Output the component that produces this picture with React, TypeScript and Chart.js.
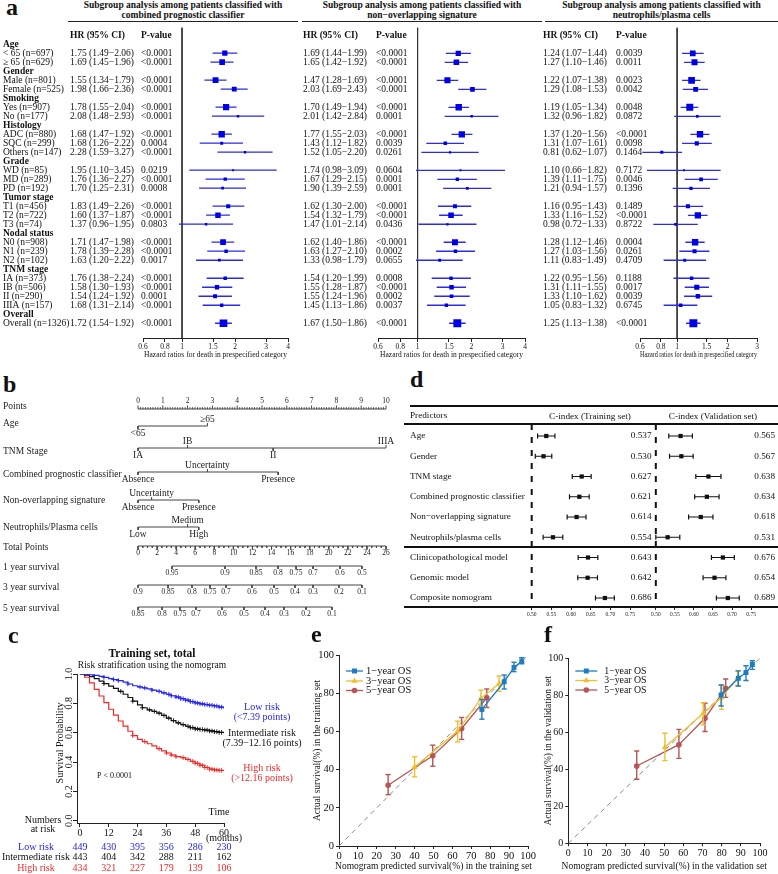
import React, { useEffect, useRef } from 'react';
import { Chart, registerables } from 'chart.js';

Chart.register(...registerables);

const SERIF = '"Liberation Serif", "Times New Roman", Times, serif';
Chart.defaults.font.family = SERIF;
Chart.defaults.color = '#111';

// ===================== a: subgroup analyses =====================
const subgroupLabels = [
  'Age', '< 65 (n=697)', '≥ 65 (n=629)',
  'Gender', 'Male (n=801)', 'Female (n=525)',
  'Smoking', 'Yes (n=907)', 'No (n=177)',
  'Histology', 'ADC (n=880)', 'SQC (n=299)', 'Others (n=147)',
  'Grade', 'WD (n=85)', 'MD (n=289)', 'PD (n=192)',
  'Tumor stage', 'T1 (n=456)', 'T2 (n=722)', 'T3 (n=74)',
  'Nodal status', 'N0 (n=908)', 'N1 (n=239)', 'N2 (n=102)',
  'TNM stage', 'IA (n=373)', 'IB (n=506)', 'II (n=290)', 'IIIA (n=157)',
  'Overall', 'Overall (n=1326)',
];

const cpcHR = [null, 1.75, 1.69, null, 1.55, 1.98, null, 1.78, 2.08, null, 1.68, 1.68, 2.28, null, 1.95, 1.76, 1.70, null, 1.83, 1.60, 1.37, null, 1.71, 1.78, 1.63, null, 1.76, 1.58, 1.54, 1.68, null, 1.72];
const cpcLo = [null, 1.49, 1.45, null, 1.34, 1.66, null, 1.55, 1.48, null, 1.47, 1.26, 1.59, null, 1.10, 1.36, 1.25, null, 1.49, 1.37, 0.96, null, 1.47, 1.39, 1.20, null, 1.38, 1.30, 1.24, 1.31, null, 1.54];
const cpcHi = [null, 2.06, 1.96, null, 1.79, 2.36, null, 2.04, 2.93, null, 1.92, 2.22, 3.27, null, 3.45, 2.27, 2.31, null, 2.26, 1.87, 1.95, null, 1.98, 2.28, 2.22, null, 2.24, 1.93, 1.92, 2.14, null, 1.92];
const cpcP = ['', '<0.0001', '<0.0001', '', '<0.0001', '<0.0001', '', '<0.0001', '<0.0001', '', '<0.0001', '0.0004', '<0.0001', '', '0.0219', '<0.0001', '0.0008', '', '<0.0001', '<0.0001', '0.0803', '', '<0.0001', '<0.0001', '0.0017', '', '<0.0001', '<0.0001', '0.0001', '<0.0001', '', '<0.0001'];

const nosHR = [null, 1.69, 1.65, null, 1.47, 2.03, null, 1.70, 2.01, null, 1.77, 1.43, 1.52, null, 1.74, 1.67, 1.90, null, 1.62, 1.54, 1.47, null, 1.62, 1.63, 1.33, null, 1.54, 1.55, 1.55, 1.45, null, 1.67];
const nosLo = [null, 1.44, 1.42, null, 1.28, 1.69, null, 1.49, 1.42, null, 1.55, 1.12, 1.05, null, 0.98, 1.29, 1.39, null, 1.30, 1.32, 1.01, null, 1.40, 1.27, 0.98, null, 1.20, 1.28, 1.24, 1.13, null, 1.50];
const nosHi = [null, 1.99, 1.92, null, 1.69, 2.43, null, 1.94, 2.84, null, 2.03, 1.82, 2.20, null, 3.09, 2.15, 2.59, null, 2.00, 1.79, 2.14, null, 1.86, 2.10, 1.79, null, 1.99, 1.87, 1.96, 1.86, null, 1.86];
const nosP = ['', '<0.0001', '<0.0001', '', '<0.0001', '<0.0001', '', '<0.0001', '0.0001', '', '<0.0001', '0.0039', '0.0261', '', '0.0604', '0.0001', '0.0001', '', '<0.0001', '<0.0001', '0.0436', '', '<0.0001', '0.0002', '0.0655', '', '0.0008', '<0.0001', '0.0002', '0.0037', '', '<0.0001'];

const npcHR = [null, 1.24, 1.27, null, 1.22, 1.29, null, 1.19, 1.32, null, 1.37, 1.31, 0.81, null, 1.10, 1.39, 1.21, null, 1.16, 1.33, 0.98, null, 1.28, 1.27, 1.11, null, 1.22, 1.31, 1.33, 1.05, null, 1.25];
const npcLo = [null, 1.07, 1.10, null, 1.07, 1.08, null, 1.05, 0.96, null, 1.20, 1.07, 0.62, null, 0.66, 1.11, 0.94, null, 0.95, 1.16, 0.72, null, 1.12, 1.03, 0.83, null, 0.95, 1.11, 1.10, 0.83, null, 1.13];
const npcHi = [null, 1.44, 1.46, null, 1.38, 1.53, null, 1.34, 1.82, null, 1.56, 1.61, 1.07, null, 1.82, 1.75, 1.57, null, 1.43, 1.52, 1.33, null, 1.46, 1.56, 1.49, null, 1.56, 1.55, 1.62, 1.32, null, 1.38];
const npcP = ['', '0.0039', '0.0011', '', '0.0023', '0.0042', '', '0.0048', '0.0872', '', '<0.0001', '0.0098', '0.1464', '', '0.7172', '0.0046', '0.1396', '', '0.1489', '<0.0001', '0.8722', '', '0.0004', '0.0261', '0.4709', '', '0.1188', '0.0017', '0.0039', '0.6745', '', '<0.0001'];

const hrTicksWide = [0.6, 0.8, 1, 1.5, 2, 3, 4];
const hrTicksNarrow = [0.6, 0.8, 1, 1.5, 2, 3];

// ===================== b: nomogram =====================
const nomoRowNames = ['Points', 'Age', 'TNM Stage', 'Combined prognostic classifier', 'Non-overlapping signature', 'Neutrophils/Plasma cells', 'Total Points', '1 year survival', '3 year survival', '5 year survival'];
const pointsTicks = [0, 1, 2, 3, 4, 5, 6, 7, 8, 9, 10];
const ageLevels = ['<65', '≥65'];
const agePoints = [0, 2.8];
const tnmLevels = ['IA', 'IB', 'II', 'IIIA'];
const tnmPoints = [0, 2.0, 5.45, 10];
const cpcLevels = ['Absence', 'Uncertainty', 'Presence'];
const cpcPoints = [0, 2.8, 5.65];
const nosLevels = ['Absence', 'Uncertainty', 'Presence'];
const nosPoints = [0, 0.55, 2.45];
const npcLevels = ['Low', 'Medium', 'High'];
const npcPoints = [0, 2.0, 2.45];
const totalPointsTicks = [0, 2, 4, 6, 8, 10, 12, 14, 16, 18, 20, 22, 24, 26];
const surv1Probs = [0.95, 0.9, 0.85, 0.8, 0.75, 0.7, 0.6, 0.5];
const surv1Total = [3.56, 9.12, 12.37, 14.68, 16.57, 18.35, 21.18, 23.48];
const surv3Probs = [0.9, 0.85, 0.8, 0.75, 0.7, 0.6, 0.5, 0.4, 0.3, 0.2, 0.1];
const surv3Total = [0, 3.15, 5.66, 7.55, 9.23, 11.95, 14.26, 16.46, 18.35, 21.07, 23.48];
const surv5Probs = [0.85, 0.8, 0.75, 0.7, 0.6, 0.5, 0.4, 0.3, 0.2, 0.1];
const surv5Total = [0, 2.52, 4.40, 6.08, 8.81, 11.11, 13.32, 15.31, 17.61, 20.34];

// ===================== c: Kaplan-Meier =====================
const kmTimes = [0, 2, 4, 6, 8, 10, 12, 14, 16, 18, 20, 22, 24, 26, 28, 30, 32, 34, 36, 38, 40, 42, 44, 46, 48, 50, 52, 54, 56, 58, 60];
const kmLow = [1.000, 0.998, 0.995, 0.990, 0.984, 0.977, 0.968, 0.962, 0.955, 0.945, 0.932, 0.920, 0.912, 0.905, 0.898, 0.890, 0.882, 0.872, 0.862, 0.852, 0.843, 0.832, 0.822, 0.812, 0.803, 0.797, 0.792, 0.787, 0.782, 0.775, 0.763];
const kmMid = [1.000, 0.993, 0.982, 0.968, 0.952, 0.935, 0.918, 0.902, 0.882, 0.862, 0.840, 0.815, 0.790, 0.770, 0.756, 0.745, 0.733, 0.718, 0.700, 0.683, 0.667, 0.655, 0.644, 0.635, 0.626, 0.622, 0.618, 0.612, 0.607, 0.602, 0.596];
const kmHigh = [1.000, 0.978, 0.940, 0.895, 0.850, 0.805, 0.760, 0.720, 0.680, 0.645, 0.610, 0.580, 0.555, 0.540, 0.525, 0.510, 0.492, 0.477, 0.462, 0.448, 0.437, 0.430, 0.418, 0.405, 0.392, 0.378, 0.363, 0.352, 0.346, 0.343, 0.340];
const censorLow = [6, 10, 14, 16, 20, 25, 27, 30, 33, 35, 37, 38, 40, 41, 42, 43, 44, 45, 46, 47, 48, 49, 50, 51, 52, 53, 54, 55, 56, 57, 58, 59];
const censorMid = [10, 17, 22, 26, 29, 31, 33, 35, 37, 39, 41, 43, 45, 46, 47, 48, 49, 50, 51, 52, 53, 54, 55, 56, 57, 58, 59];
const censorHigh = [22, 27, 33, 36, 38, 40, 43, 45, 47, 48, 49, 50, 51, 52, 53, 54, 55, 56, 57, 58, 59];
const riskTimes = [0, 12, 24, 36, 48, 60];
const riskLow = [449, 430, 395, 356, 286, 230];
const riskMid = [443, 404, 342, 288, 211, 162];
const riskHigh = [434, 321, 227, 179, 139, 106];
const kmYTicks = [0, 0.2, 0.4, 0.6, 0.8, 1.0];

// ===================== d: C-index =====================
const cindexLabels = ['Age', 'Gender', 'TNM stage', 'Combined prognostic classifier', 'Non−overlapping signature', 'Neutrophils/plasma cells', 'Clinicopathological model', 'Genomic model', 'Composite nomogram'];
const trainC = [0.537, 0.530, 0.627, 0.621, 0.614, 0.554, 0.643, 0.642, 0.686];
const trainLo = [0.515, 0.509, 0.603, 0.596, 0.590, 0.529, 0.618, 0.617, 0.662];
const trainHi = [0.559, 0.551, 0.651, 0.646, 0.638, 0.579, 0.668, 0.667, 0.710];
const validC = [0.565, 0.567, 0.638, 0.634, 0.618, 0.531, 0.676, 0.654, 0.689];
const validLo = [0.534, 0.536, 0.605, 0.602, 0.586, 0.500, 0.646, 0.624, 0.659];
const validHi = [0.596, 0.598, 0.671, 0.666, 0.650, 0.563, 0.706, 0.684, 0.719];
const cTicks = [0.5, 0.55, 0.6, 0.65, 0.7, 0.75];

// ===================== e/f: calibration =====================
const calNames = ['1−year OS', '3−year OS', '5−year OS'];
const e1x = [75.6, 87.4, 92.6, 96.7];
const e1y = [71.5, 86.0, 93.5, 96.8];
const e1lo = [66.4, 82.2, 91.3, 95.4];
const e1hi = [76.7, 89.5, 96.2, 98.6];
const e3x = [40.0, 62.8, 75.1, 84.7];
const e3y = [41.4, 60.2, 77.3, 85.1];
const e3lo = [36.2, 54.5, 71.8, 81.0];
const e3hi = [46.7, 65.4, 81.6, 89.0];
const e5x = [26.0, 49.6, 64.9, 78.2];
const e5y = [31.8, 47.2, 61.5, 77.6];
const e5lo = [26.9, 41.8, 55.8, 72.5];
const e5hi = [37.4, 52.8, 67.3, 82.2];
const f1x = [79.7, 88.7, 92.7, 96.0];
const f1y = [80.2, 89.2, 92.3, 96.6];
const f1lo = [74.2, 85.0, 88.0, 94.0];
const f1hi = [85.6, 93.2, 96.0, 98.7];
const f3x = [50.4, 70.4, 80.0, 88.3];
const f3y = [51.9, 70.3, 78.9, 89.2];
const f3lo = [44.7, 64.0, 72.4, 85.0];
const f3hi = [59.5, 76.0, 85.6, 93.2];
const f5x = [35.7, 57.7, 71.3, 82.1];
const f5y = [41.8, 53.3, 67.6, 83.8];
const f5lo = [34.6, 45.9, 60.4, 78.9];
const f5hi = [49.9, 61.6, 75.7, 88.8];

// ===================== helpers =====================
const BLUE_SQ = '#0000e6';
const BLUE_CI = '#2b2be8';
const KM_BLUE = '#2424ee';
const KM_RED = '#f02828';
const CAL_BLUE = '#1f7cc0';
const CAL_YELLOW = '#efbf2c';
const CAL_RED = '#b65556';

function drawText(ctx: CanvasRenderingContext2D, s: string, x: number, y: number, o: any = {}) {
  ctx.save();
  ctx.font = `${o.weight || 'normal'} ${o.size || 9.5}px ${SERIF}`;
  ctx.fillStyle = o.color || '#111';
  ctx.textAlign = o.align || 'left';
  ctx.textBaseline = 'middle';
  if (o.rotate) {
    ctx.translate(x, y);
    ctx.rotate(o.rotate);
    ctx.fillText(s, 0, 0);
  } else {
    ctx.fillText(s, x, y);
  }
  ctx.restore();
}

function baseOptions(padding: any, scales: any) {
  return {
    responsive: false,
    animation: false,
    devicePixelRatio: 1,
    events: [],
    layout: { padding },
    plugins: { legend: { display: false }, tooltip: { enabled: false }, title: { display: false } },
    scales,
  };
}

function ChartBox(props: { left: number; top: number; width: number; height: number; make: () => any }) {
  const ref = useRef<HTMLCanvasElement | null>(null);
  useEffect(() => {
    if (!ref.current) return;
    const chart = new Chart(ref.current, props.make());
    return () => chart.destroy();
  }, []);
  return (
    <canvas
      ref={ref}
      width={props.width}
      height={props.height}
      style={{ position: 'absolute', left: props.left, top: props.top, width: props.width, height: props.height }}
    />
  );
}

const fmt2 = (v: any) => Number(v).toFixed(2);

// ---------- forest (panel a) ----------
const F_TOP = -1.86;
const F_BOTTOM = 32.64;

function forestConfig(o: any) {
  const ci: any[] = [];
  const sq: any[] = [];
  const rad: number[] = [];
  o.hr.forEach((v: any, i: number) => {
    if (v == null) return;
    const l = o.lo[i];
    const h = o.hi[i];
    ci.push({ x: l, y: i }, { x: h, y: i }, { x: h, y: null });
    sq.push({ x: v, y: i });
    rad.push(Math.max(1.3, Math.min(5.6, 1.2 / Math.log(h / l))));
  });
  return {
    type: 'scatter',
    data: {
      datasets: [
        { data: sq, pointStyle: 'rect', pointRadius: rad, pointBackgroundColor: BLUE_SQ, pointBorderWidth: 0 },
        { data: ci, showLine: true, borderColor: BLUE_CI, borderWidth: 1.3, pointRadius: 0 },
        { data: [{ x: 1, y: F_TOP }, { x: 1, y: F_BOTTOM }], showLine: true, borderColor: '#333', borderWidth: 1, pointRadius: 0 },
      ],
    },
    options: baseOptions(
      { left: o.plotLeft, right: o.width - o.plotRight, top: 0, bottom: 0 },
      {
        x: {
          type: 'logarithmic',
          min: 0.6,
          max: o.xMax,
          afterBuildTicks: (s: any) => { s.ticks = o.ticks.map((v: number) => ({ value: v })); },
          ticks: { callback: (v: any) => String(v), font: { size: 7.5 }, padding: 1, autoSkip: false, maxRotation: 0, minRotation: 0, color: '#111' },
          grid: { display: true, drawOnChartArea: false, drawTicks: true, tickLength: 4, color: '#222' },
          border: { display: true, color: '#222', width: 1 },
          title: { display: true, text: 'Hazard ratios for death in prespecified category', font: { size: 7.5 }, padding: 0, color: '#111' },
          afterFit: (s: any) => { s.height = 22; },
        },
        y: { type: 'linear', min: F_TOP, max: F_BOTTOM, reverse: true, display: false },
      }
    ),
    plugins: [
      {
        id: 'forestText',
        afterDraw(chart: any) {
          const ctx = chart.ctx;
          const ys = chart.scales.y;
          const yh = ys.getPixelForValue(-1);
          drawText(ctx, 'HR (95% CI)', o.hrX, yh, { weight: 'bold' });
          drawText(ctx, 'P-value', o.pX, yh, { weight: 'bold' });
          o.hr.forEach((v: any, i: number) => {
            const y = ys.getPixelForValue(i);
            if (o.labels) drawText(ctx, o.labels[i], 3, y, { weight: v == null ? 'bold' : 'normal' });
            if (v == null) return;
            drawText(ctx, `${fmt2(v)} (${fmt2(o.lo[i])}−${fmt2(o.hi[i])})`, o.hrX, y);
            drawText(ctx, o.pv[i], o.pX, y);
          });
        },
      },
    ],
  };
}

// ---------- nomogram (panel b) ----------
const NOMO_H = 230;
const NOMO_ROW_Y = [14, 31, 53, 77, 105, 132, 151, 171, 190, 212];
const NOMO_LABEL_Y = [11, 28, 56, 79, 105, 132, 152, 172, 192, 213];
const NOMO_SIDES = [[1, -1], [1, -1, 1, -1], [1, -1, 1], [1, -1, 1], [1, -1, 1]];

function nomogramConfig() {
  const varLevels = [ageLevels, tnmLevels, cpcLevels, nosLevels, npcLevels];
  const varPoints = [agePoints, tnmPoints, cpcPoints, nosPoints, npcPoints];
  const survProbs = [surv1Probs, surv3Probs, surv5Probs];
  const survTotal = [surv1Total, surv3Total, surv5Total];
  const segP: any[] = [];
  const segT: any[] = [];
  const hline = (arr: any[], x0: number, x1: number, y: number) => arr.push({ x: x0, y }, { x: x1, y }, { x: x1, y: null });
  const tick = (arr: any[], x: number, y: number, len: number) => arr.push({ x, y }, { x, y: y + len }, { x, y: null });
  const Y = NOMO_ROW_Y;
  hline(segP, pointsTicks[0], pointsTicks[pointsTicks.length - 1], Y[0]);
  for (let k = 0; k <= 100; k++) tick(segP, k / 10, Y[0], k % 10 === 0 ? -3.5 : -1.8);
  varPoints.forEach((pts, r) => {
    const y = Y[r + 1];
    hline(segP, Math.min(...pts), Math.max(...pts), y);
    pts.forEach((p, j) => tick(segP, p, y, NOMO_SIDES[r][j] * 3));
  });
  hline(segT, totalPointsTicks[0], totalPointsTicks[totalPointsTicks.length - 1], Y[6]);
  for (let k = 0; k <= 52; k++) tick(segT, k / 2, Y[6], k % 4 === 0 ? 3.5 : 1.8);
  survTotal.forEach((tot, r) => {
    const y = Y[7 + r];
    hline(segT, Math.min(...tot), Math.max(...tot), y);
    tot.forEach((t) => tick(segT, t, y, 3));
  });
  return {
    type: 'scatter',
    data: {
      datasets: [
        { data: segP, showLine: true, borderColor: '#444', borderWidth: 1, pointRadius: 0, clip: false },
        { data: segT, xAxisID: 'x2', showLine: true, borderColor: '#444', borderWidth: 1, pointRadius: 0, clip: false },
      ],
    },
    options: baseOptions(
      { left: 138, right: 14, top: 0, bottom: 0 },
      {
        x: { type: 'linear', min: 0, max: 10, display: false },
        x2: { type: 'linear', position: 'bottom', min: 0, max: 26, display: false },
        y: { type: 'linear', min: 0, max: NOMO_H, reverse: true, display: false },
      }
    ),
    plugins: [
      {
        id: 'nomoText',
        afterDraw(chart: any) {
          const ctx = chart.ctx;
          const xs = chart.scales.x;
          const x2 = chart.scales.x2;
          const ys = chart.scales.y;
          const py = (v: number) => ys.getPixelForValue(v);
          nomoRowNames.forEach((n, i) => drawText(ctx, n, 3, py(NOMO_LABEL_Y[i]), { size: 9.5, color: '#222' }));
          pointsTicks.forEach((v) => drawText(ctx, String(v), xs.getPixelForValue(v), py(Y[0]) - 7.5, { size: 7.5, align: 'center', color: '#222' }));
          varLevels.forEach((lv, r) => {
            lv.forEach((name, j) => {
              const side = NOMO_SIDES[r][j];
              drawText(ctx, name, xs.getPixelForValue(varPoints[r][j]), py(Y[r + 1]) + side * 7, { size: 9.5, align: 'center', color: '#222' });
            });
          });
          totalPointsTicks.forEach((v) => drawText(ctx, String(v), x2.getPixelForValue(v), py(Y[6]) + 7.5, { size: 7.5, align: 'center', color: '#222' }));
          survProbs.forEach((pr, r) => {
            pr.forEach((p, j) => drawText(ctx, String(p), x2.getPixelForValue(survTotal[r][j]), py(Y[7 + r]) + 7.5, { size: 7.5, align: 'center', color: '#222' }));
          });
        },
      },
    ],
  };
}

// ---------- Kaplan-Meier (panel c) ----------
function survivalAt(s: number[], t: number) {
  let v = s[0];
  kmTimes.forEach((t0, i) => { if (t0 <= t) v = s[i]; });
  return v;
}

function kmConfig() {
  const curves = [
    { s: kmLow, c: KM_BLUE, cens: censorLow },
    { s: kmMid, c: '#111', cens: censorMid },
    { s: kmHigh, c: KM_RED, cens: censorHigh },
  ];
  const datasets: any[] = [];
  curves.forEach((cv) => {
    datasets.push({ data: kmTimes.map((t, i) => ({ x: t, y: cv.s[i] })), showLine: true, stepped: true, borderColor: cv.c, borderWidth: 1.2, pointRadius: 0 });
    datasets.push({ data: cv.cens.map((t) => ({ x: t, y: survivalAt(cv.s, t) })), pointStyle: 'cross', pointRadius: 2.3, pointBorderColor: cv.c, pointBorderWidth: 0.9 });
  });
  return {
    type: 'scatter',
    data: { datasets },
    options: baseOptions(
      { left: 67, right: 98, top: 29, bottom: 0 },
      {
        x: {
          type: 'linear', min: -1.2, max: 60,
          afterBuildTicks: (s: any) => { s.ticks = riskTimes.map((v) => ({ value: v })); },
          ticks: { font: { size: 10 }, padding: 0, autoSkip: false, maxRotation: 0, minRotation: 0, color: '#111' },
          grid: { display: true, drawOnChartArea: false, tickLength: 4, color: '#222' },
          border: { display: true, color: '#222' },
          afterFit: (s: any) => { s.height = 51; },
        },
        y: {
          type: 'linear', min: -0.015, max: 1,
          afterBuildTicks: (s: any) => { s.ticks = kmYTicks.map((v) => ({ value: v })); },
          ticks: { display: false },
          grid: { display: true, drawOnChartArea: false, tickLength: 4, color: '#222' },
          border: { display: true, color: '#222' },
          afterFit: (s: any) => { s.width = 10; },
        },
      }
    ),
    plugins: [
      {
        id: 'kmText',
        afterDraw(chart: any) {
          const ctx = chart.ctx;
          const xs = chart.scales.x;
          const ys = chart.scales.y;
          drawText(ctx, 'Training set, total', 152, 9, { size: 11.5, weight: 'bold', align: 'center' });
          drawText(ctx, 'Risk stratification using the nomogram', 152, 20, { size: 9.5, align: 'center' });
          kmYTicks.forEach((v) => drawText(ctx, v.toFixed(1), 69, ys.getPixelForValue(v), { size: 10, align: 'center', rotate: -Math.PI / 2 }));
          drawText(ctx, 'Survival Probability', 60, 98, { size: 10, align: 'center', rotate: -Math.PI / 2 });
          drawText(ctx, 'P < 0.0001', 97, 131, { size: 8 });
          drawText(ctx, 'Time', 219, 167, { size: 10, align: 'center' });
          drawText(ctx, '(months)', xs.getPixelForValue(60), 193, { size: 10, align: 'center' });
          drawText(ctx, 'Numbers', 43, 175, { size: 10, align: 'center' });
          drawText(ctx, 'at risk', 43, 184, { size: 10, align: 'center' });
          const rows = [
            { name: 'Low risk', vals: riskLow, c: KM_BLUE, y: 202 },
            { name: 'Intermediate risk', vals: riskMid, c: '#111', y: 212 },
            { name: 'High risk', vals: riskHigh, c: KM_RED, y: 223 },
          ];
          rows.forEach((r) => {
            drawText(ctx, r.name, 36, r.y, { size: 10, align: 'center', color: r.c });
            r.vals.forEach((v, i) => drawText(ctx, String(v), xs.getPixelForValue(riskTimes[i]), r.y, { size: 10, align: 'center', color: r.c }));
          });
          const lab = [
            ['Low risk', '(<7.39 points)', KM_BLUE, 62],
            ['Intermediate risk', '(7.39−12.16 points)', '#111', 88],
            ['High risk', '(>12.16 points)', KM_RED, 123],
          ];
          lab.forEach((l: any) => {
            drawText(ctx, l[0], 262, l[3], { size: 10, align: 'center', color: l[2] });
            drawText(ctx, l[1], 262, l[3] + 10, { size: 10, align: 'center', color: l[2] });
          });
        },
      },
    ],
  };
}

// ---------- C-index (panel d) ----------
const C_TOP = -0.593;
const C_BOTTOM = 8.444;

function cindexConfig(o: any) {
  const dots = o.c.map((v: number, i: number) => ({ x: v, y: i }));
  const ci: any[] = [];
  const caps: any[] = [];
  o.c.forEach((v: number, i: number) => {
    ci.push({ x: o.lo[i], y: i }, { x: o.hi[i], y: i }, { x: o.hi[i], y: null });
    caps.push({ x: o.lo[i], y: i }, { x: o.hi[i], y: i });
  });
  return {
    type: 'scatter',
    data: {
      datasets: [
        { data: dots, pointStyle: 'rect', pointRadius: 3, pointBackgroundColor: '#111', pointBorderWidth: 0, clip: false },
        { data: caps, pointStyle: 'line', pointRotation: 90, pointRadius: 2.5, pointBorderColor: '#111', pointBorderWidth: 1.2, clip: false },
        { data: ci, showLine: true, borderColor: '#111', borderWidth: 1.2, pointRadius: 0, clip: false },
        { data: [{ x: 0.5, y: C_TOP }, { x: 0.5, y: C_BOTTOM }], showLine: true, borderColor: '#111', borderWidth: 2, borderDash: [6, 7], pointRadius: 0, clip: false },
      ],
    },
    options: baseOptions(
      { left: o.plotLeft, right: o.width - o.plotRight, top: 24, bottom: 0 },
      {
        x: {
          type: 'linear', min: 0.5, max: o.xMax,
          afterBuildTicks: (s: any) => { s.ticks = cTicks.map((v) => ({ value: v })); },
          ticks: { callback: (v: any) => Number(v).toFixed(2), font: { size: 5.5 }, padding: 1, autoSkip: false, maxRotation: 0, minRotation: 0, color: '#222' },
          grid: { display: true, drawOnChartArea: false, tickLength: 3, color: '#222' },
          border: { display: false },
          afterFit: (s: any) => { s.height = 18; },
        },
        y: { type: 'linear', min: C_TOP, max: C_BOTTOM, reverse: true, display: false },
      }
    ),
    plugins: [
      {
        id: 'cText',
        afterDraw(chart: any) {
          const ctx = chart.ctx;
          const ys = chart.scales.y;
          if (o.labels) {
            drawText(ctx, 'Predictors', 10, 16, { size: 9.2 });
            o.labels.forEach((s: string, i: number) => drawText(ctx, s, 10, ys.getPixelForValue(i), { size: 9.2 }));
          }
          drawText(ctx, o.header, o.headerX, 17, { size: 9.2, align: 'center' });
          o.c.forEach((v: number, i: number) => drawText(ctx, v.toFixed(3), o.valueX, ys.getPixelForValue(i), { size: 9.2, align: 'right' }));
        },
      },
    ],
  };
}

// ---------- calibration (panels e, f) ----------
function drawMarker(ctx: CanvasRenderingContext2D, style: string, x: number, y: number, r: number, color: string) {
  ctx.save();
  ctx.fillStyle = color;
  ctx.beginPath();
  if (style === 'rect') {
    const s = r * Math.SQRT1_2;
    ctx.rect(x - s, y - s, 2 * s, 2 * s);
  } else if (style === 'triangle') {
    ctx.moveTo(x, y - r);
    ctx.lineTo(x + r * 0.866, y + r * 0.5);
    ctx.lineTo(x - r * 0.866, y + r * 0.5);
    ctx.closePath();
  } else {
    ctx.arc(x, y, r, 0, Math.PI * 2);
  }
  ctx.fill();
  ctx.restore();
}

function calibConfig(o: any) {
  const datasets: any[] = [];
  o.series.forEach((s: any) => {
    datasets.push({ data: s.x.map((v: number, i: number) => ({ x: v, y: s.y[i] })), showLine: true, borderColor: s.color, borderWidth: 1.3, pointStyle: s.style, pointRadius: s.r, pointBackgroundColor: s.color, pointBorderColor: s.color, pointBorderWidth: 0 });
    const seg: any[] = [];
    const caps: any[] = [];
    s.x.forEach((v: number, i: number) => {
      seg.push({ x: v, y: s.lo[i] }, { x: v, y: s.hi[i] }, { x: v, y: null });
      caps.push({ x: v, y: s.lo[i] }, { x: v, y: s.hi[i] });
    });
    datasets.push({ data: seg, showLine: true, borderColor: s.color, borderWidth: 1.4, pointRadius: 0 });
    datasets.push({ data: caps, pointStyle: 'line', pointRadius: 2.6, pointBorderColor: s.color, pointBorderWidth: 1.4 });
  });
  datasets.push({ data: [{ x: 0, y: 0 }, { x: 100, y: 100 }], showLine: true, borderColor: '#8a8a8a', borderWidth: 1, borderDash: [5, 4], pointRadius: 0 });
  return {
    type: 'scatter',
    data: { datasets },
    options: baseOptions(
      { left: o.padLeft, right: o.padRight, top: o.padTop, bottom: 0 },
      {
        x: {
          type: 'linear', min: 0, max: 100,
          ticks: { stepSize: 10, font: { size: o.tickSize }, padding: 1, autoSkip: false, maxRotation: 0, minRotation: 0, color: '#111' },
          grid: { display: true, drawOnChartArea: false, tickLength: 3, color: '#222' },
          border: { display: true, color: '#222' },
          afterFit: (s: any) => { s.height = o.xAxisH; },
        },
        y: {
          type: 'linear', min: 0, max: 100,
          ticks: { stepSize: 20, font: { size: o.tickSize }, padding: 2, color: '#111' },
          grid: { display: true, drawOnChartArea: false, tickLength: 3, color: '#222' },
          border: { display: true, color: '#222' },
          afterFit: (s: any) => { s.width = 22; },
        },
      }
    ),
    plugins: [
      {
        id: 'calText',
        afterDraw(chart: any) {
          const ctx = chart.ctx;
          const a = chart.chartArea;
          o.series.forEach((s: any, i: number) => {
            const y = o.legendY[i];
            const x0 = a.left + o.legLine[0];
            const x1 = a.left + o.legLine[1];
            ctx.save();
            ctx.strokeStyle = s.color;
            ctx.lineWidth = 1.3;
            ctx.beginPath();
            ctx.moveTo(x0, y);
            ctx.lineTo(x1, y);
            ctx.stroke();
            ctx.restore();
            drawMarker(ctx, s.style, (x0 + x1) / 2, y, s.r, s.color);
            drawText(ctx, s.name, a.left + o.legText, y, { size: o.legSize });
          });
          drawText(ctx, o.xTitle, (a.left + a.right) / 2, o.xTitleY, { size: 9.5, align: 'center' });
          drawText(ctx, o.yTitle, o.yTitleX, (a.top + a.bottom) / 2, { size: 9.5, align: 'center', rotate: -Math.PI / 2 });
        },
      },
    ],
  };
}

// ===================== App =====================
const letterStyle = (left: number, top: number): any => ({ position: 'absolute', left, top, font: `bold 24px/24px ${SERIF}`, color: '#111' });
const titleStyle = (left: number, width: number): any => ({
  position: 'absolute', left, top: 0, width, height: 21, borderBottom: '1px solid #222',
  textAlign: 'center', font: `bold 9.5px/10px ${SERIF}`, color: '#111',
});
const ruleStyle = (left: number, top: number, width: number): any => ({ position: 'absolute', left, top, width, height: 0, borderTop: '2px solid #111' });

export default function App() {
  return (
    <div style={{ position: 'absolute', left: 0, top: 0, width: 778, height: 874, background: '#fff', overflow: 'hidden' }}>
      {/* panel a */}
      <div style={letterStyle(6, -5)}>a</div>
      <div style={titleStyle(68, 230)}>Subgroup analysis among patients classified with<br />combined prognostic classifier</div>
      <div style={titleStyle(302, 240)}>Subgroup analysis among patients classified with<br />non−overlapping signature</div>
      <div style={titleStyle(545, 233)}>Subgroup analysis among patients classified with<br />neutrophils/plasma cells</div>
      <ChartBox left={0} top={22} width={300} height={338} make={() => forestConfig({ hr: cpcHR, lo: cpcLo, hi: cpcHi, pv: cpcP, labels: subgroupLabels, ticks: hrTicksWide, xMax: 4, plotLeft: 143, plotRight: 288, width: 300, hrX: 70, pX: 141 })} />
      <ChartBox left={300} top={22} width={245} height={338} make={() => forestConfig({ hr: nosHR, lo: nosLo, hi: nosHi, pv: nosP, ticks: hrTicksWide, xMax: 4, plotLeft: 78, plotRight: 225, width: 245, hrX: 3, pX: 76 })} />
      <ChartBox left={540} top={22} width={238} height={338} make={() => forestConfig({ hr: npcHR, lo: npcLo, hi: npcHi, pv: npcP, ticks: hrTicksNarrow, xMax: 3, plotLeft: 100, plotRight: 217, width: 238, hrX: 3, pX: 76 })} />

      {/* panel b */}
      <div style={letterStyle(3, 372)}>b</div>
      <ChartBox left={0} top={395} width={400} height={NOMO_H} make={nomogramConfig} />

      {/* panel d */}
      <div style={letterStyle(410, 367)}>d</div>
      <div style={ruleStyle(410, 405, 368)} />
      <div style={ruleStyle(404, 423, 374)} />
      <div style={ruleStyle(404, 546, 374)} />
      <div style={ruleStyle(404, 606, 374)} />
      <ChartBox left={400} top={400} width={255} height={225} make={() => cindexConfig({ c: trainC, lo: trainLo, hi: trainHi, labels: cindexLabels, xMax: 0.8, plotLeft: 131.7, plotRight: 250, width: 255, valueX: 251.5, header: 'C-index (Training set)', headerX: 190 })} />
      <ChartBox left={650} top={400} width={128} height={225} make={() => cindexConfig({ c: validC, lo: validLo, hi: validHi, xMax: 0.807, plotLeft: 5, plotRight: 128, width: 128, valueX: 125, header: 'C-index (Validation set)', headerX: 63 })} />

      {/* panel c */}
      <div style={letterStyle(8, 623)}>c</div>
      <ChartBox left={0} top={645} width={322} height={229} make={kmConfig} />

      {/* panel e */}
      <div style={letterStyle(311, 622)}>e</div>
      <ChartBox left={300} top={620} width={240} height={254} make={() => calibConfig({
        series: [
          { name: calNames[0], x: e1x, y: e1y, lo: e1lo, hi: e1hi, color: CAL_BLUE, style: 'rect', r: 3.5 },
          { name: calNames[1], x: e3x, y: e3y, lo: e3lo, hi: e3hi, color: CAL_YELLOW, style: 'triangle', r: 3.6 },
          { name: calNames[2], x: e5x, y: e5y, lo: e5lo, hi: e5hi, color: CAL_RED, style: 'circle', r: 2.8 },
        ],
        padLeft: 17, padRight: 12, padTop: 35, xAxisH: 28, tickSize: 10.5,
        legendY: [51, 61, 70.5], legLine: [7, 24], legText: 27, legSize: 10.5,
        xTitle: 'Nomogram predicted survival(%) in the training set', xTitleY: 246,
        yTitle: 'Actual survival(%) in the training set', yTitleX: 17,
      })} />

      {/* panel f */}
      <div style={letterStyle(544, 622)}>f</div>
      <ChartBox left={530} top={620} width={248} height={254} make={() => calibConfig({
        series: [
          { name: calNames[0], x: f1x, y: f1y, lo: f1lo, hi: f1hi, color: CAL_BLUE, style: 'rect', r: 3.5 },
          { name: calNames[1], x: f3x, y: f3y, lo: f3lo, hi: f3hi, color: CAL_YELLOW, style: 'triangle', r: 3.6 },
          { name: calNames[2], x: f5x, y: f5y, lo: f5lo, hi: f5hi, color: CAL_RED, style: 'circle', r: 2.8 },
        ],
        padLeft: 16.3, padRight: 18, padTop: 38.3, xAxisH: 30.7, tickSize: 10,
        legendY: [51, 60.5, 70], legLine: [7, 29], legText: 36, legSize: 9.8,
        xTitle: 'Nomogram predicted survival(%) in the validation set', xTitleY: 246,
        yTitle: 'Actual survival(%) in the validation set', yTitleX: 18,
      })} />
    </div>
  );
}
